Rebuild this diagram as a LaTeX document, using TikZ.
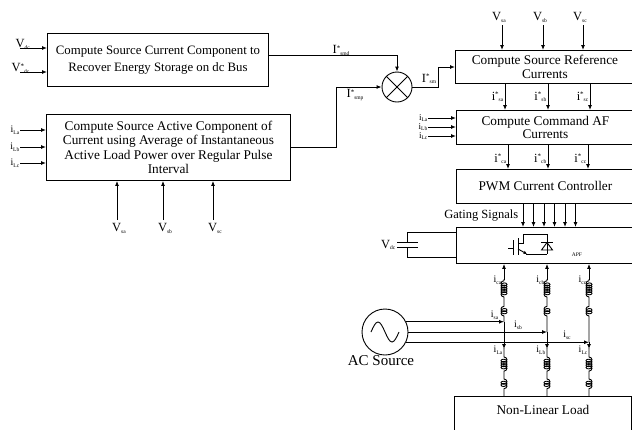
\documentclass[tikz,border=0pt]{standalone}
\usepackage{fontspec}
\setmainfont{Liberation Serif}
\usetikzlibrary{arrows.meta,decorations.pathmorphing,calc}
\newcommand\subs[1]{\raisebox{-1.5pt}{\fontsize{5.5}{5.5}\selectfont #1}}
\newcommand\stt{\raisebox{3.5pt}{\fontsize{7}{7}\selectfont *}}
\begin{document}
\begin{tikzpicture}[x=1pt,y=-1pt,
  box/.style={draw, line width=0.9pt, inner sep=0pt, align=center},
  arr/.style={-{Latex[length=5pt,width=4pt]}, line width=0.9pt},
  wire/.style={line width=0.9pt},
  coilseg/.style={decoration={coil, aspect=0.7, segment length=2.2pt, amplitude=3pt}},
  vlbl/.style={inner sep=0.5pt, font=\fontsize{12.5}{12.5}\selectfont},
  ilbl/.style={inner sep=0.5pt, font=\fontsize{10}{10}\selectfont},
  slbl/.style={inner sep=0.5pt, font=\fontsize{9}{9}\selectfont},
]
\useasboundingbox (0,0) rectangle (632,429);

% ---- boxes
\node[box, anchor=north west, minimum width=221, minimum height=53,
      font=\fontsize{12.8}{17}\selectfont] (b1) at (47,33)
  {Compute Source Current Component to\\Recover Energy Storage on dc Bus};
\node[box, anchor=north west, minimum width=244, minimum height=66,
      font=\fontsize{13.3}{14.5}\selectfont] (b2) at (46,114)
  {Compute Source Active Component of\\Current using Average of Instantaneous\\Active Load Power over Regular Pulse\\Interval};
\node[box, anchor=north west, minimum width=179, minimum height=33,
      font=\fontsize{13.3}{13.5}\selectfont] (b3) at (455,50)
  {Compute Source Reference\\Currents};
\node[box, anchor=north west, minimum width=178, minimum height=34,
      font=\fontsize{13.3}{13.5}\selectfont] (b4) at (456,110)
  {Compute Command AF\\Currents};
\node[box, anchor=north west, minimum width=178, minimum height=34,
      font=\fontsize{13.3}{13.5}\selectfont] (b5) at (456,169)
  {PWM Current Controller};
\node[box, anchor=north west, minimum width=178, minimum height=36] (b6) at (456,227) {};
\node[draw, line width=0.9pt, anchor=north west, minimum width=177, inner xsep=0pt, inner ysep=0pt,
      text height=18pt, text depth=27pt, font=\fontsize{13.3}{13.5}\selectfont] (load) at (454,396)
  {Non-Linear Load};

% ---- mixer
\node[draw, circle, line width=0.9pt, minimum size=30, inner sep=0pt] (mx) at (397,87) {};
\draw[wire] (mx.north west) -- (mx.south east) (mx.north east) -- (mx.south west);

% ---- inputs of box 1
\coordinate (v1) at (20,48);
\coordinate (v2) at (20,72);
\draw[arr] (v1) -- (v1 -| b1.west);
\draw[arr] (v2) -- (v2 -| b1.west);
\node[vlbl, anchor=south west] (lv1) at (15,50) {V\subs{dc}};
\node[vlbl, anchor=south west] (lv2) at (11,74) {V\stt\subs{dc}};

% ---- inputs of box 2
\foreach \y/\s [count=\k] in {130/La,147/Lb,163/Lc}{
  \coordinate (il\k) at (20,\y);
  \draw[arr] (il\k) -- (il\k -| b2.west);
  \node[ilbl, anchor=east] (lil\k) at (il\k) {i\subs{\s}};
}
\foreach \x/\s [count=\k] in {117/sa,163/sb,213/sc}{
  \coordinate (vb\k) at (\x,220);
  \draw[arr] (vb\k) -- (vb\k |- b2.south);
  \node[vlbl, anchor=north] (lvb\k) at ($(vb\k)+(2,3)$) {V\subs{\s}};
}

% ---- mixer connections
\coordinate (jp) at (336,87);
\coordinate (jm) at (438,67);
\draw[arr] ([yshift=4.5pt]b1.east) -| (mx.north);
\draw[arr] (b2.east) -| (jp) -- (mx.west);
\draw[arr] (mx.east) -| (jm) -- (jm -| b3.west);
\node[vlbl, anchor=south] (lsmd) at (341,56) {I\stt\subs{smd}};
\node[vlbl, anchor=north] (lsmp) at (355,89) {I\stt\subs{smp}};
\node[vlbl] (lsm) at (429,79) {I\stt\subs{sm}};

% ---- inputs of box 3
\foreach \x/\s [count=\k] in {502/sa,543/sb,583/sc}{
  \coordinate (vt\k) at (\x,25);
  \draw[arr] (vt\k) -- (vt\k |- b3.north);
  \node[vlbl, anchor=south] (lvt\k) at ($(vt\k)+(-3,-2)$) {V\subs{\s}};
}

% ---- box 3 -> box 4
\foreach \x/\s [count=\k] in {505/sa,548/sb,590/sc}{
  \coordinate (r\k) at (\x,0);
  \draw[arr] (r\k |- b3.south) -- (r\k |- b4.north);
  \node[vlbl, anchor=east] (lr\k) at ($(r\k)+(-1,97)$) {i\stt\subs{\s}};
}
% ---- inputs of box 4
\foreach \y/\s [count=\k] in {118/La,127/Lb,136/Lc}{
  \coordinate (jl\k) at (428,\y);
  \draw[arr] (jl\k) -- (jl\k -| b4.west);
  \node[slbl, anchor=east] (ljl\k) at (jl\k) {i\subs{\s}};
}
% ---- box 4 -> box 5
\foreach \x/\s [count=\k] in {508/ca,548/cb,588/cc}{
  \coordinate (c\k) at (\x,0);
  \draw[arr] (c\k |- b4.south) -- (c\k |- b5.north);
  \node[vlbl, anchor=east] (lc\k) at ($(c\k)+(-1,159)$) {i\stt\subs{\s}};
}
% ---- gating signals
\foreach \k in {0,...,5}{
  \coordinate (g\k) at (523+10.5*\k,0);
  \draw[arr] (g\k |- b5.south) -- (g\k |- b6.north);
}
\node[vlbl, anchor=east] (lgate) at (519,216) {Gating Signals};

% ---- IGBT symbol
\draw[wire] (508,248) -- (513,248);
\draw[wire] (513,240) -- (513,255);
\draw[wire] (518,238) -- (518,255);
\draw[wire] (518,243) -- (523,243) -- (523,234) -- (547,234) -- (547,254);
\draw[line width=0.9pt, -{Latex[length=3.5pt,width=3.5pt]}] (518,249) -- (527,254);
\draw[wire] (526,254) -- (547,254);
\draw[wire] (541.5,250) -- (552.5,250) -- (547,242.5) -- cycle;
\draw[wire] (541,242) -- (553,242);
\node[inner sep=0pt, font=\fontsize{5.5}{5.5}\selectfont] (apf) at (577,255) {APF};

% ---- dc capacitor
\coordinate (ct) at (407,232);
\coordinate (cb) at (407,257);
\draw[wire] (ct -| b6.west) -- (ct) -- (407,242);
\draw[wire] (cb -| b6.west) -- (cb) -- (407,247);
\draw[wire] (397,242) -- (418,242) (397,247) -- (418,247);
\node[vlbl, anchor=east] (lvdc) at (396,245) {V\subs{dc}};

% ---- AC source
\node[draw, circle, line width=0.9pt, minimum size=46, inner sep=0pt] (src) at (385,332) {};
\draw[wire] (371,332) sin (378,322) cos (385,332) sin (392,342) cos (399,332);
\node[inner sep=0pt, font=\fontsize{15}{15}\selectfont] (lsrc) at (381,361) {AC Source};

\coordinate (pa) at (504,0);
\coordinate (pb) at (547,0);
\coordinate (pc) at (589,0);
\draw[arr] (src.26) -- (src.26 -| pa);
\draw[arr] (src.east) -- (src.east -| pb);
\draw[arr] (src.-26) -- (src.-26 -| pc);
\node[ilbl, anchor=south east] (lsa) at (499,320) {i\subs{sa}};
\node[ilbl, anchor=south] (lsb) at (518,330) {i\subs{sb}};
\node[ilbl, anchor=south] (lsc) at (567,340) {i\subs{sc}};

% ---- phase legs
\foreach \p/\yj/\s [count=\k] in {pa/322/a,pb/332/b,pc/342/c}{
  \draw[wire] ($(\p)+(0,\yj)$) -- ($(\p)+(0,316)$) decorate[coilseg]{-- ($(\p)+(0,305)$)}
     -- ($(\p)+(0,297)$) decorate[coilseg]{-- ($(\p)+(0,280)$)} -- ($(\p)+(0,279)$);
  \draw[arr] ($(\p)+(0,280)$) -- (\p |- b6.south);
  \draw[arr] ($(\p)+(0,\yj)$) -- ($(\p)+(0,349)$);
  \draw[wire] ($(\p)+(0,348)$) -- ($(\p)+(0,357)$) decorate[coilseg]{-- ($(\p)+(0,372)$)}
     -- ($(\p)+(0,379)$) decorate[coilseg]{-- ($(\p)+(0,390)$)} -- (\p |- load.north);
  \node[ilbl, anchor=east] (lcur\k) at ($(\p)+(-2,280)$) {i\subs{c\s}};
  \node[ilbl, anchor=east] (lload\k) at ($(\p)+(-1,350)$) {i\subs{L\s}};
}
\end{tikzpicture}
\end{document}
